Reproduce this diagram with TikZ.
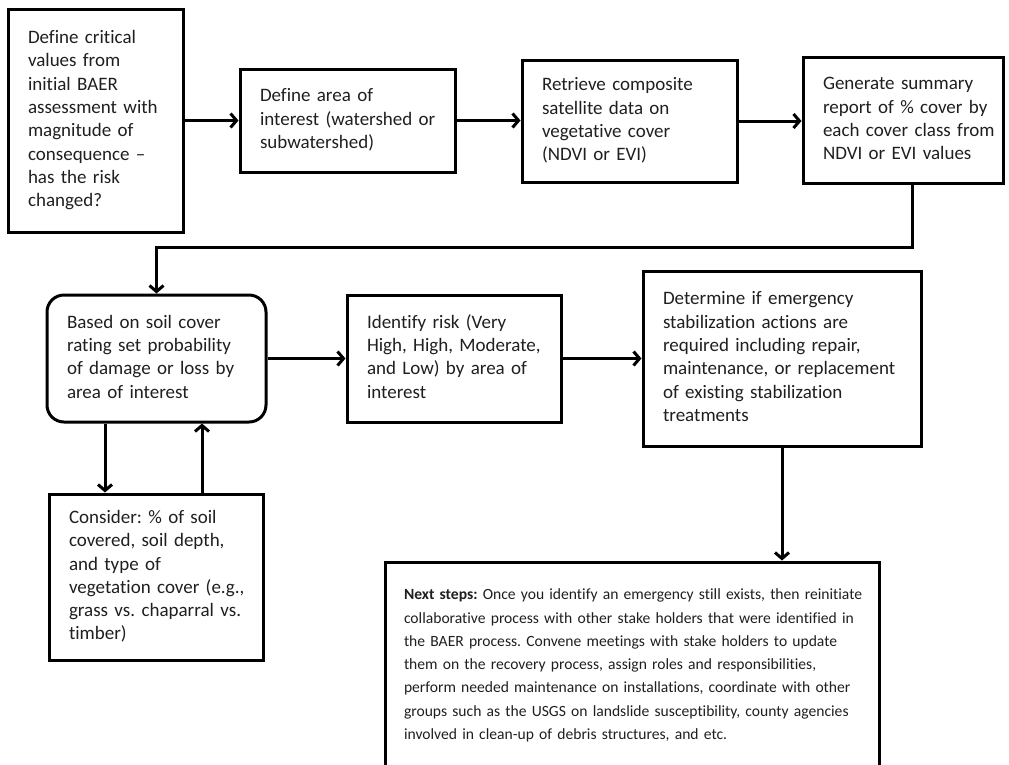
\documentclass[tikz,border=0pt]{standalone}
\usepackage{fontspec}
\setmainfont{Carlito}[Ligatures={NoCommon}]
\usetikzlibrary{arrows.meta}
\newcommand\bx[1]{\begin{tabular}{@{}l@{}}#1\end{tabular}}
\definecolor{txt}{gray}{0.12}
\newcommand\bodyfnt{\fontsize{19pt}{23.3pt}\selectfont}
\newcommand\notefnt{\fontsize{15.6pt}{23.3pt}\selectfont}
\frenchspacing
\begin{document}
\begin{tikzpicture}[x=1pt,y=-1pt,
  box/.style={draw, line width=3pt, inner xsep=20pt, inner ysep=0pt, align=left, font=\bodyfnt, text=txt},
  arr/.style={line width=3pt, -{Straight Barb[length=6pt,width=14pt]}}]
\useasboundingbox (0,0) rectangle (1009,764);
\node[box, minimum width=175pt, minimum height=223pt, text width=135pt] (b1) at (95.5,120.5)
  {\bx{Define critical\\values from\\initial BAER\\assessment with\\magnitude of\\consequence \textendash\\has the risk\\changed?}};
\node[box, minimum width=215pt, minimum height=103pt, text width=175pt] (b2) at (347.5,120.5)
  {\bx{Define area of\\interest (watershed or\\subwatershed)}};
\node[box, minimum width=215pt, minimum height=122pt, text width=175pt] (b3) at (629.5,121)
  {\bx{Retrieve composite\\satellite data on\\vegetative cover\\(NDVI or EVI)}};
\node[box, minimum width=200pt, minimum height=126pt, text width=160pt] (b4) at (903,120)
  {\bx{Generate summary\\report of \% cover by\\each cover class from\\NDVI or EVI values}};
\node[box, rounded corners=17pt, minimum width=219pt, minimum height=127pt, text width=179pt] (b5) at (156.5,358.5)
  {\bx{Based on soil cover\\rating set probability\\of damage or loss by\\area of interest}};
\node[box, minimum width=214pt, minimum height=127pt, text width=174pt] (b6) at (454,358.5)
  {\bx{Identify risk (Very\\High, High, Moderate,\\and Low) by area of\\interest}};
\node[box, minimum width=278pt, minimum height=175pt, text width=238pt] (b7) at (782,358.5)
  {\bx{Determine if emergency\\stabilization actions are\\required including repair,\\maintenance, or replacement\\of existing stabilization\\treatments}};
\node[box, minimum width=214pt, minimum height=166pt, text width=174pt] (b9) at (156,577)
  {\bx{Consider: \% of soil\\covered, soil depth,\\and type of\\vegetation cover (e.g.,\\grass vs. chaparral vs.\\timber)}};
\node[box, font=\notefnt, minimum width=494pt, minimum height=206pt, text width=456pt, inner xsep=19pt] (b8) at (632,665)
  {\bx{\textbf{Next steps:} Once you identify an emergency still exists, then reinitiate\\collaborative process with other stake holders that were identified in\\the BAER process. Convene meetings with stake holders to update\\them on the recovery process, assign roles and responsibilities,\\perform needed maintenance on installations, coordinate with other\\groups such as the USGS on landslide susceptibility, county agencies\\involved in clean-up of debris structures, and etc.}};
\coordinate (k1) at (912,247);
\coordinate (cx1) at (105,0);
\coordinate (cx2) at (202,0);
\draw[arr] (b1.east) -- (b2.west |- b1.east);
\draw[arr] (b2.east) -- (b3.west |- b2.east);
\draw[arr] (b3.east |- 0,121) -- (b4.west |- 0,121);
\draw[arr] (b4.south -| k1) -- (k1) -| (b5.north);
\draw[arr] (b5.east) -- (b6.west |- b5.east);
\draw[arr] (b6.east) -- (b7.west |- b6.east);
\draw[arr] (b5.south -| cx1) -- (b9.north -| cx1);
\draw[arr] (b9.north -| cx2) -- (b5.south -| cx2);
\draw[arr] (b7.south) -- (b8.north -| b7.south);
\end{tikzpicture}
\end{document}
